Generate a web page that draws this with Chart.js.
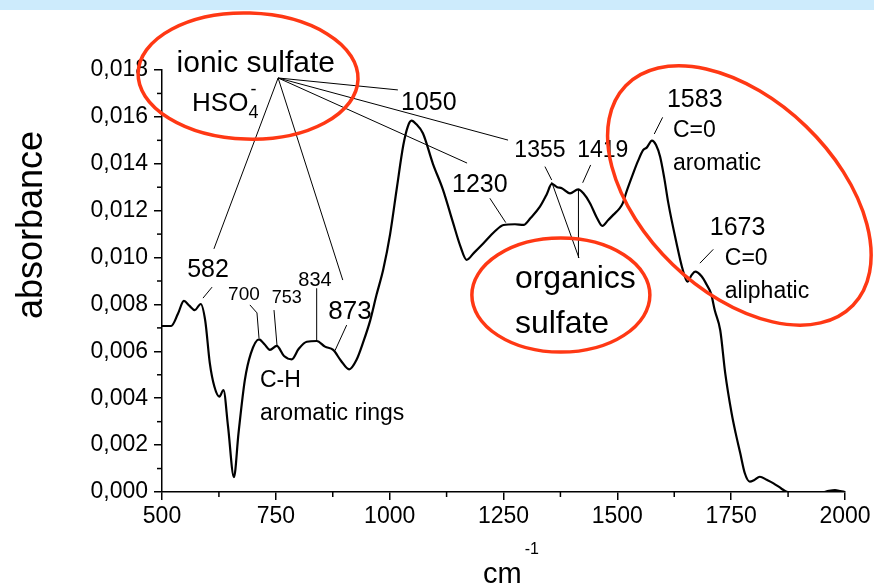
<!DOCTYPE html>
<html lang="en">
<head>
<meta charset="UTF-8" />
<title>FTIR absorbance</title>
<script src="https://cdn.jsdelivr.net/npm/chart.js"></script>
<style>
  body { margin: 0; background: #fff; }
  #box { width: 874px; height: 588px; position: relative; }
</style>
</head>
<body>
<div id="box"><canvas id="espectro"></canvas></div>

<script>
  // wavenumber (cm-1) and absorbance in units of 0.001
  var wavenumbers = [500, 520, 535, 548, 560, 572, 585, 595, 605, 615, 626, 635, 645, 658, 668, 682, 695, 713, 725, 737,
    752, 768, 785, 800, 818, 840, 858, 876, 893, 911, 927, 942, 957, 971, 986, 1001, 1016, 1030, 1040, 1048,
    1058, 1073, 1095, 1117, 1139, 1155, 1169, 1185, 1206, 1230, 1250, 1275, 1294, 1310, 1330, 1345, 1356, 1368, 1378, 1396,
    1414, 1425, 1440, 1455, 1467, 1480, 1491, 1505, 1512, 1520, 1535, 1545, 1557, 1565, 1576, 1585, 1594, 1603, 1612, 1630,
    1642, 1654, 1663, 1671, 1685, 1696, 1706, 1714, 1726, 1737, 1751, 1760, 1770, 1780, 1791, 1800, 1813, 1828, 1843, 1860,
    1872, 1890, 1920, 1950, 1965, 1978, 1990, 2000];
  var absorbanceMilli = [7.08, 7.08, 7.6, 8.15, 7.95, 7.76, 8.02, 7.3, 5.5, 4.5, 4.07, 4.35, 2.8, 0.63, 2.5, 4.78, 5.9, 6.51, 6.3, 6.06,
    6.23, 5.8, 5.66, 6.1, 6.41, 6.44, 6.2, 6.06, 5.6, 5.23, 5.63, 6.4, 7.3, 8.4, 9.5, 11.0, 13.0, 14.8, 15.6, 15.84,
    15.7, 15.3, 14.0, 12.9, 11.5, 10.5, 9.9, 10.2, 10.61, 11.1, 11.39, 11.42, 11.39, 11.7, 12.17, 12.7, 13.14, 13.0, 12.96, 12.74,
    12.91, 12.75, 12.32, 11.7, 11.35, 11.6, 11.82, 12.1, 12.32, 12.8, 13.6, 14.1, 14.59, 14.7, 14.99, 14.8, 14.3, 13.4, 12.32, 10.61,
    9.6, 8.97, 9.25, 9.40, 9.2, 8.85, 8.45, 7.75, 6.9, 5.06, 3.36, 2.5, 1.65, 0.8, 0.44, 0.5, 0.65, 0.52, 0.37, 0.15,
    0.01, -0.05, -0.06, -0.02, 0.05, 0.08, 0.04, 0.0];

  var xMinorTicks = [625, 875, 1125, 1375, 1625, 1875];
  var yMinorTicks = [1, 3, 5, 7, 9, 11, 13, 15, 17];

  var FONTE = "'Liberation Sans', Arial, sans-serif";
  var VERMELHO = "#ff3814";

  // annotation texts, anchored in data coords (cm-1, absorbance*1000)
  var textos = [
    { t: "ionic sulfate", x: 706, y: 17.92, s: 30, a: "center" },
    { t: "1050", x: 1086, y: 16.29, s: 25, a: "center" },
    { t: "1230", x: 1198, y: 12.81, s: 25, a: "center" },
    { t: "1355", x: 1330, y: 14.30, s: 23, a: "center" },
    { t: "1419", x: 1468, y: 14.29, s: 23, a: "center" },
    { t: "582", x: 601, y: 9.16, s: 25, a: "center" },
    { t: "700", x: 680, y: 8.19, s: 19, a: "center" },
    { t: "753", x: 774, y: 8.05, s: 18, a: "center" },
    { t: "834", x: 836, y: 8.79, s: 20, a: "center" },
    { t: "873", x: 913, y: 7.37, s: 26, a: "center" },
    { t: "C-H", x: 715, y: 4.49, s: 23, a: "left" },
    { t: "aromatic rings", x: 715, y: 3.07, s: 23, a: "left" },
    { t: "organics", x: 1275, y: 8.70, s: 32, a: "left" },
    { t: "sulfate", x: 1275, y: 6.78, s: 32, a: "left" },
    { t: "1583", x: 1670, y: 16.43, s: 25, a: "center" },
    { t: "C=0", x: 1622, y: 15.16, s: 23, a: "left" },
    { t: "aromatic", x: 1622, y: 13.73, s: 23, a: "left" },
    { t: "1673", x: 1703, y: 10.96, s: 25, a: "left" },
    { t: "C=0", x: 1736, y: 9.68, s: 23, a: "left" },
    { t: "aliphatic", x: 1736, y: 8.28, s: 23, a: "left" }
  ];

  var hub = [755, 17.66];
  var linhas = [
    [hub, [614, 10.37]],
    [hub, [897, 9.04]],
    [hub, [1018, 17.15]],
    [hub, [1170, 14.03]],
    [hub, [1260, 15.01]],
    [[590, 8.27], [610, 8.74]],
    [[693, 7.98], [708.6, 7.64], [713, 6.57]],
    [[746, 7.76], [752.5, 6.27]],
    [[839.7, 8.69], [839.7, 6.48]],
    [[905.6, 7.12], [879.9, 6.03]],
    [[1220, 12.53], [1255, 11.49]],
    [[1341, 13.88], [1355.8, 13.31]],
    [[1355.8, 13.22], [1415.8, 9.98]],
    [[1414.6, 12.92], [1414.6, 9.98]],
    [[1441.4, 13.95], [1423.9, 13.19]],
    [[1599.5, 15.98], [1581.1, 15.27]],
    [[1710.7, 10.35], [1681.4, 9.76]]
  ];

  var elipses = [
    { x: 689, y: 17.74, rx: 110, ry: 63, rot: 0.03 },
    { x: 1376, y: 8.40, rx: 89, ry: 57, rot: 0 },
    { x: 1768, y: 12.65, rx: 158, ry: 96, rot: 44 * Math.PI / 180 }
  ];

  var anotacoes = {
    id: "anotacoes",
    beforeDraw: function (chart) {
      var ctx = chart.ctx;
      ctx.save();
      ctx.fillStyle = "#ffffff";
      ctx.fillRect(0, 0, chart.width, chart.height);
      ctx.fillStyle = "#cdebfc";
      ctx.fillRect(0, 0, chart.width, 10);
      ctx.restore();
    },
    afterDraw: function (chart) {
      var ctx = chart.ctx;
      var sx = chart.scales.x, sy = chart.scales.y;
      var area = chart.chartArea;
      function px(v) { return sx.getPixelForValue(v); }
      function py(v) { return sy.getPixelForValue(v); }
      ctx.save();

      // minor ticks
      ctx.strokeStyle = "#000";
      ctx.lineWidth = 1.5;
      xMinorTicks.forEach(function (v) {
        ctx.beginPath();
        ctx.moveTo(px(v), area.bottom);
        ctx.lineTo(px(v), area.bottom + 5);
        ctx.stroke();
      });
      yMinorTicks.forEach(function (v) {
        ctx.beginPath();
        ctx.moveTo(area.left - 5, py(v));
        ctx.lineTo(area.left, py(v));
        ctx.stroke();
      });

      // pointer lines
      ctx.lineWidth = 1;
      linhas.forEach(function (l) {
        ctx.beginPath();
        l.forEach(function (p, i) {
          if (i == 0) ctx.moveTo(px(p[0]), py(p[1]));
          else ctx.lineTo(px(p[0]), py(p[1]));
        });
        ctx.stroke();
      });

      // texts
      ctx.fillStyle = "#000";
      ctx.textBaseline = "alphabetic";
      textos.forEach(function (t) {
        ctx.font = t.s + "px " + FONTE;
        ctx.textAlign = t.a;
        ctx.fillText(t.t, px(t.x), py(t.y));
      });

      // HSO4-
      ctx.textAlign = "left";
      ctx.font = "26px " + FONTE;
      var hx = px(566), hy = py(16.25);
      ctx.fillText("HSO", hx, hy);
      var w = ctx.measureText("HSO").width;
      ctx.font = "18px " + FONTE;
      ctx.fillText("4", hx + w, hy + 7);
      ctx.fillText("-", hx + w + 2, hy - 16);

      // ellipses
      ctx.strokeStyle = VERMELHO;
      ctx.lineWidth = 3.5;
      elipses.forEach(function (e) {
        ctx.beginPath();
        ctx.ellipse(px(e.x), py(e.y), e.rx, e.ry, e.rot, 0, Math.PI * 2);
        ctx.stroke();
      });

      // axis titles
      ctx.fillStyle = "#000";
      ctx.save();
      ctx.translate(area.left - 133, py(11.39));
      ctx.rotate(-Math.PI / 2);
      ctx.textAlign = "center";
      ctx.font = "36px " + FONTE;
      ctx.fillText("absorbance", 0, 13);
      ctx.restore();

      ctx.textAlign = "left";
      ctx.font = "29px " + FONTE;
      var cx = px(1205), cy = area.bottom + 91;
      ctx.fillText("cm", cx, cy);
      var wc = ctx.measureText("cm").width;
      ctx.font = "16px " + FONTE;
      ctx.fillText("-1", cx + wc + 3, cy - 29);

      ctx.restore();
    }
  };

  var pontos = [];
  for (var i = 0; i < wavenumbers.length; i++) {
    pontos.push({ x: wavenumbers[i], y: absorbanceMilli[i] });
  }

  new Chart(document.getElementById("espectro"), {
    type: "line",
    data: {
      datasets: [
        {
          data: pontos,
          borderColor: "#000",
          borderWidth: 2.2,
          pointRadius: 0,
          fill: false,
          cubicInterpolationMode: "monotone",
          clip: 0
        }
      ]
    },
    options: {
      responsive: true,
      maintainAspectRatio: false,
      animation: false,
      layout: { padding: { left: 0, top: 70, right: 29, bottom: 0 } },
      plugins: { legend: { display: false }, tooltip: { enabled: false } },
      scales: {
        x: {
          type: "linear",
          min: 500,
          max: 2000,
          ticks: {
            stepSize: 250,
            color: "#000",
            font: { family: FONTE, size: 23 },
            padding: 3,
            maxRotation: 0,
            callback: function (v) { return String(v); }
          },
          grid: { drawOnChartArea: false, drawTicks: true, tickLength: 8, color: "#000", lineWidth: 1.5 },
          border: { display: true, color: "#000", width: 1.5 },
          afterFit: function (scale) { scale.height = 96; }
        },
        y: {
          min: 0,
          max: 18,
          ticks: {
            stepSize: 2,
            color: "#000",
            font: { family: FONTE, size: 23 },
            padding: 6,
            callback: function (v) { return (v / 1000).toFixed(3).replace(".", ","); }
          },
          grid: { drawOnChartArea: false, drawTicks: true, tickLength: 8, color: "#000", lineWidth: 1.5 },
          border: { display: true, color: "#000", width: 1.5 },
          afterFit: function (scale) { scale.width = 162; }
        }
      }
    },
    plugins: [anotacoes]
  });
</script>
</body>
</html>
